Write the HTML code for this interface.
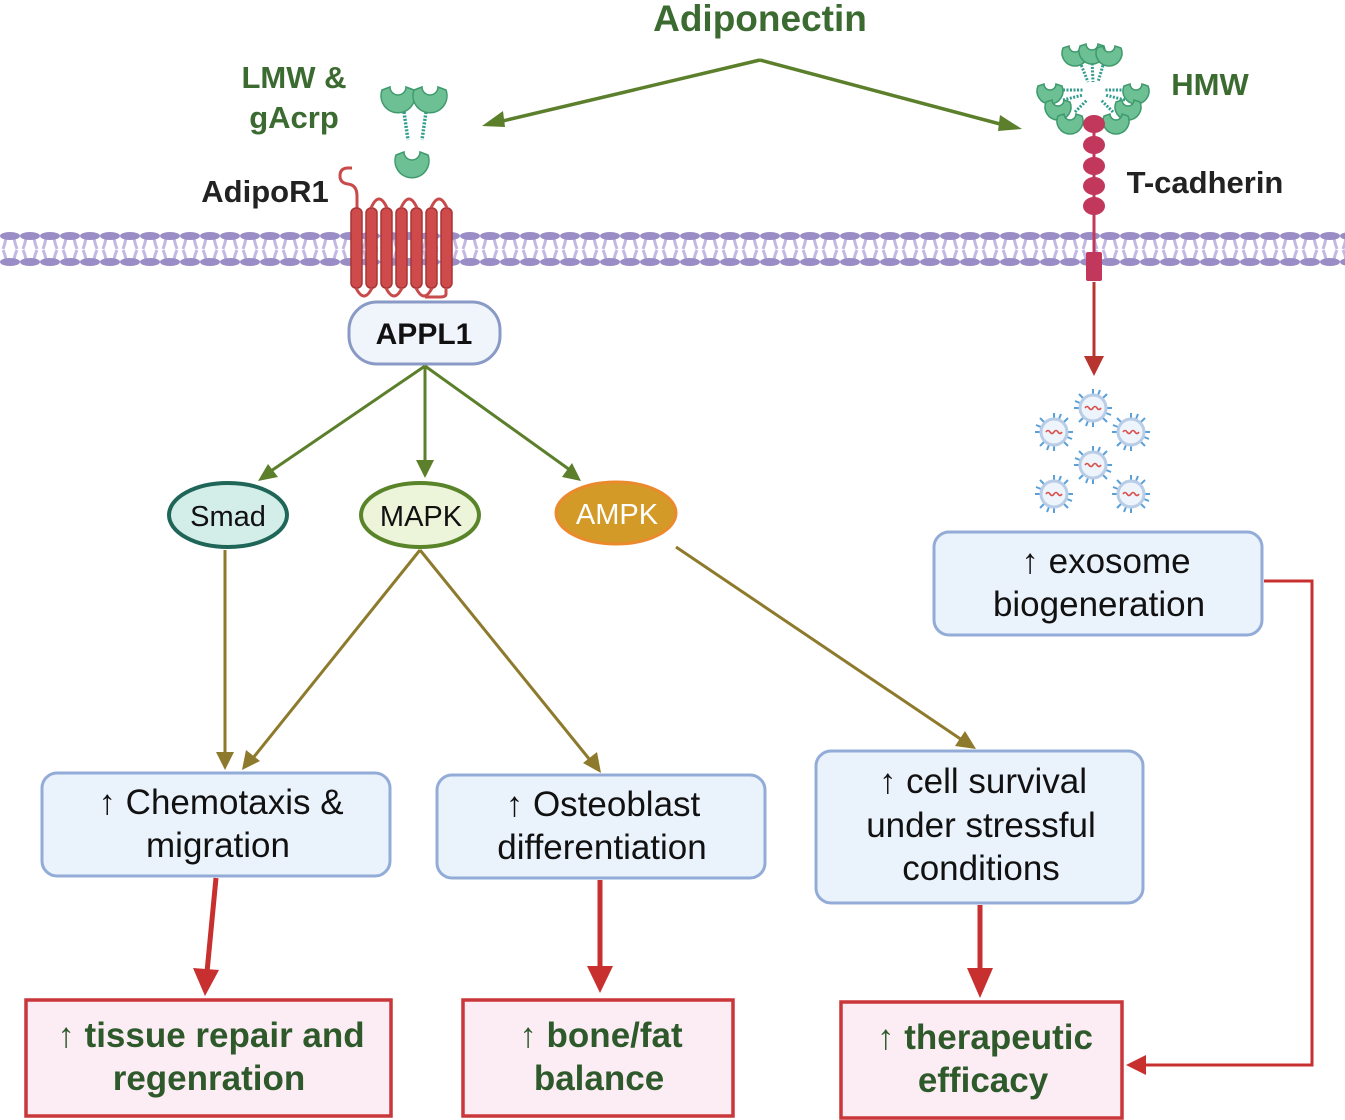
<!DOCTYPE html>
<html><head><meta charset="utf-8"><style>
html,body{margin:0;padding:0;background:#fff}
svg{display:block}
text{font-family:"Liberation Sans",sans-serif}
</style></head><body>
<svg width="1345" height="1120" viewBox="0 0 1345 1120" xmlns="http://www.w3.org/2000/svg">
<defs>
<pattern id="mem" x="0" y="230" width="20" height="40" patternUnits="userSpaceOnUse">
 <path d="M6 8 Q5 14 3 19 M14 8 Q15 14 17 19 M6 30 Q5 24 3 20 M14 30 Q15 24 17 20" stroke="#c3b8e4" stroke-width="3" fill="none"/>
 <ellipse cx="10" cy="6" rx="10" ry="4" fill="#9a8cc4"/>
 <ellipse cx="10" cy="32" rx="10" ry="4" fill="#9a8cc4"/>
</pattern>
<g id="exo">
 <g stroke="#5aa0d8" stroke-width="2">
  <path d="M0-14V-19M0 14V19M-14 0H-19M14 0H19M10-10L14-14M-10-10L-14-14M10 10L14 14M-10 10L-14 14M5-13L7-18M-5 13L-7 18M13 5L18 7M-13-5L-18-7"/>
 </g>
 <circle r="13" fill="#eef4fb" stroke="#b9cde6" stroke-width="3"/>
 <path d="M-8 0 q2-3 4 0 t4 0 t4 0 t4 0" stroke="#d8504a" stroke-width="1.6" fill="none"/>
</g>
<g id="cup"><path d="M-16 -8 A17 17 0 1 0 16 -8 L8 -11 A8 8 0 0 1 -8 -11 Z" fill="#6dbf94" stroke="#3e9a6c" stroke-width="1.5"/></g>
<g id="cs"><path d="M-12 -6 A13 13 0 1 0 12 -6 L6 -8 A6 6 0 0 1 -6 -8 Z" fill="#6dbf94" stroke="#3e9a6c" stroke-width="1.5"/></g>
</defs>

<rect x="0" y="230" width="1345" height="40" fill="url(#mem)"/>

<text x="760" y="31" font-size="37" font-weight="bold" fill="#3b6b30" text-anchor="middle">Adiponectin</text>
<text x="294" y="88" font-size="31" font-weight="bold" fill="#3b6b30" text-anchor="middle">LMW &amp;</text>
<text x="294" y="128" font-size="31" font-weight="bold" fill="#3b6b30" text-anchor="middle">gAcrp</text>
<text x="265" y="202" font-size="31" font-weight="bold" fill="#222" text-anchor="middle">AdipoR1</text>
<text x="1210" y="95" font-size="31" font-weight="bold" fill="#3b6b30" text-anchor="middle">HMW</text>
<text x="1205" y="193" font-size="31" font-weight="bold" fill="#222" text-anchor="middle">T-cadherin</text>

<path d="M760 60 L490 124 M760 60 L1015 128" stroke="#5b7f2b" stroke-width="3.5" fill="none"/>
<path d="M482 126 L503 111 L505 127Z" fill="#5b7f2b"/>
<path d="M1022 129 L1000 115 L998 131Z" fill="#5b7f2b"/>

<g stroke="#2f9d8e" stroke-width="3.5" stroke-dasharray="2 1.5"><path d="M404 112 L408 140 M426 112 L422 140"/></g>
<use href="#cup" x="398" y="98"/><use href="#cup" x="430" y="98"/><use href="#cup" x="412" y="163"/>

<path d="M357 210 L357 196 Q357 185 348 184 Q340 183 340 176 Q340 168 348 168 L352 168" stroke="#c94a4a" stroke-width="3" fill="none"/>
<g fill="#cf4b4b" stroke="#a73535" stroke-width="1.5">
<rect x="351" y="208" width="11" height="80" rx="5"/><rect x="366" y="208" width="11" height="80" rx="5"/>
<rect x="381" y="208" width="11" height="80" rx="5"/><rect x="396" y="208" width="11" height="80" rx="5"/>
<rect x="411" y="208" width="11" height="80" rx="5"/><rect x="426" y="208" width="11" height="80" rx="5"/>
<rect x="441" y="208" width="11" height="80" rx="5"/>
</g>
<path d="M371 208 Q379 190 387 208 M401 208 Q409 190 417 208 M431 208 Q439 190 447 208 M356 288 Q364 304 372 288 M386 288 Q394 304 402 288 M416 288 Q424 304 432 288 M446 288 L446 294 Q446 297 440 297 L425 297" stroke="#c94a4a" stroke-width="3" fill="none"/>

<g stroke="#2f9d8e" stroke-width="3" stroke-dasharray="2 1.5">
<path d="M1080 62 L1088 82 M1092 60 L1093 82 M1104 62 L1098 82 M1063 90 L1083 90 M1063 100 L1083 95 M1075 112 L1087 100 M1125 90 L1105 90 M1125 100 L1105 95 M1113 112 L1101 100"/>
</g>
<use href="#cs" x="1075" y="54"/><use href="#cs" x="1092" y="52"/><use href="#cs" x="1109" y="54"/>
<use href="#cs" x="1050" y="92"/><use href="#cs" x="1058" y="108"/><use href="#cs" x="1070" y="122"/>
<use href="#cs" x="1136" y="92"/><use href="#cs" x="1128" y="108"/><use href="#cs" x="1116" y="122"/>
<path d="M1094 130 V270" stroke="#c2375c" stroke-width="3"/>
<g fill="#c2375c"><ellipse cx="1094" cy="124" rx="11" ry="9"/><ellipse cx="1094" cy="145" rx="11" ry="9"/><ellipse cx="1094" cy="166" rx="11" ry="9"/><ellipse cx="1094" cy="186" rx="11" ry="9"/><ellipse cx="1094" cy="206" rx="11" ry="9"/><rect x="1086" y="252" width="16" height="29" rx="2"/></g>

<path d="M1094 282 V360" stroke="#b8342f" stroke-width="3"/>
<path d="M1084 356 L1104 356 L1094 376Z" fill="#b8342f"/>

<use href="#exo" x="1093" y="408"/><use href="#exo" x="1054" y="432"/><use href="#exo" x="1131" y="432"/>
<use href="#exo" x="1093" y="465"/><use href="#exo" x="1054" y="494"/><use href="#exo" x="1131" y="494"/>

<rect x="349" y="302" width="151" height="62" rx="28" fill="#f0f4fb" stroke="#8a9ac6" stroke-width="3"/>
<text x="424" y="344" font-size="30" font-weight="bold" fill="#111" text-anchor="middle">APPL1</text>

<path d="M425 366 L268 473 M425 366 L425 464 M425 366 L570 470" stroke="#5b7f2b" stroke-width="3" fill="none"/>
<path d="M258 481 L268 464 L278 477Z" fill="#5b7f2b"/>
<path d="M416 460 L434 460 L425 478Z" fill="#5b7f2b"/>
<path d="M581 481 L562 477 L572 463Z" fill="#5b7f2b"/>

<ellipse cx="228" cy="515" rx="59" ry="32" fill="#d3eee8" stroke="#1f6659" stroke-width="4"/>
<text x="228" y="526" font-size="29" fill="#111" text-anchor="middle">Smad</text>
<ellipse cx="420" cy="515" rx="59" ry="32" fill="#ecf5d9" stroke="#5a842a" stroke-width="4"/>
<text x="421" y="526" font-size="29" fill="#111" text-anchor="middle">MAPK</text>
<ellipse cx="616" cy="513" rx="60" ry="31" fill="#d39a28" stroke="#ea8a2c" stroke-width="3"/>
<text x="617" y="524" font-size="29" fill="#fff" text-anchor="middle">AMPK</text>

<g stroke="#8e7a2c" stroke-width="3" fill="none">
<path d="M225 550 V756 M420 550 L253 758 M420 550 L590 760 M676 547 L962 740"/>
</g>
<g fill="#8e7a2c">
<path d="M216 752 L234 752 L225 770Z"/>
<path d="M242 770 L246 750 L260 761Z"/>
<path d="M601 773 L583 763 L597 752Z"/>
<path d="M976 749 L955 746 L965 731Z"/>
</g>

<g fill="#eaf2fc" stroke="#93acd7" stroke-width="3">
<rect x="42" y="773" width="348" height="103" rx="15"/>
<rect x="437" y="775" width="328" height="103" rx="15"/>
<rect x="816" y="751" width="327" height="152" rx="15"/>
<rect x="934" y="532" width="328" height="103" rx="15"/>
</g>
<g font-size="35" fill="#111" text-anchor="middle">
<text x="221" y="814">↑ Chemotaxis &amp;</text><text x="218" y="857">migration</text>
<text x="603" y="816">↑ Osteoblast</text><text x="602" y="859">differentiation</text>
<text x="983" y="793">↑ cell survival</text><text x="981" y="837">under stressful</text><text x="981" y="880">conditions</text>
<text x="1106" y="573">↑ exosome</text><text x="1099" y="616">biogeneration</text>
</g>

<g stroke="#c8302f" stroke-width="5" fill="none">
<path d="M216 878 L207 972 M600 880 V970 M980 905 V972"/>
<path d="M1264 581 H1312 V1065 H1145" stroke-width="3"/>
</g>
<g fill="#c8302f">
<path d="M193 968 L219 970 L205 996Z"/>
<path d="M587 966 L613 966 L600 993Z"/>
<path d="M967 968 L993 968 L980 998Z"/>
<path d="M1126 1065 L1146 1055 L1146 1075Z"/>
</g>

<g fill="#fcedf4" stroke="#c9373b" stroke-width="3.5">
<rect x="26" y="1000" width="365" height="116"/>
<rect x="463" y="1000" width="270" height="116"/>
<rect x="841" y="1002" width="281" height="116"/>
</g>
<g font-size="35" font-weight="bold" fill="#2e5a2b" text-anchor="middle">
<text x="211" y="1047">↑ tissue repair and</text><text x="209" y="1090">regenration</text>
<text x="601" y="1047">↑ bone/fat</text><text x="599" y="1090">balance</text>
<text x="985" y="1049">↑ therapeutic</text><text x="983" y="1092">efficacy</text>
</g>
</svg>
</body></html>
